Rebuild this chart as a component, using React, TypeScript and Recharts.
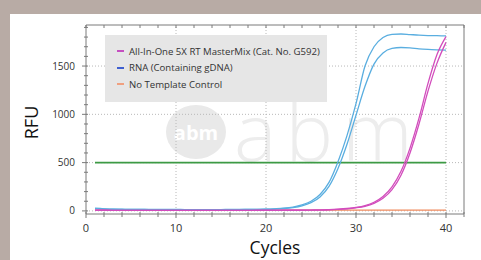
import React from 'react';
import { LineChart, Line, XAxis, YAxis, ReferenceLine, Legend } from 'recharts';

// qPCR amplification curves
const cycles = [
  1, 2, 3, 4, 5, 6, 7, 8, 9, 10, 11, 12, 13, 14, 15, 16, 17, 18, 19, 20,
  21, 22, 23, 24, 25, 26, 27, 28, 29, 30, 31, 32, 33, 34, 35, 36, 37, 38, 39, 40,
];
const masterMixA = [
  9, 7, 6, 6, 6, 6, 6, 6, 6, 6, 6, 6, 6, 6, 6, 6, 6, 6, 7, 7,
  7, 8, 8, 8, 9, 10, 13, 18, 25, 36, 55, 90, 150, 250, 410, 650, 960, 1320, 1620, 1805,
];
const masterMixB = [
  8, 7, 6, 6, 6, 6, 6, 5, 5, 5, 5, 5, 5, 5, 5, 5, 6, 6, 6, 6,
  6, 7, 7, 7, 8, 9, 12, 16, 22, 32, 48, 78, 130, 220, 370, 600, 900, 1240, 1530, 1745,
];
const rnaA = [
  28, 22, 18, 17, 16, 16, 15, 15, 15, 15, 14, 14, 14, 14, 14, 14, 14, 15, 16, 18,
  22, 28, 40, 62, 100, 170, 295, 510, 780, 1110, 1500, 1700, 1795, 1828, 1832, 1826, 1820, 1816, 1814, 1812,
];
const rnaB = [
  24, 20, 17, 16, 15, 15, 14, 14, 14, 14, 14, 14, 14, 14, 14, 15, 15, 15, 16, 17,
  20, 25, 35, 53, 85, 145, 255, 440, 690, 990, 1290, 1520, 1635, 1682, 1692, 1688, 1678, 1672, 1668, 1665,
];
const noTemplate = [
  8, 8, 8, 8, 8, 8, 8, 8, 8, 8, 8, 8, 8, 8, 8, 8, 8, 8, 8, 8,
  8, 8, 8, 8, 8, 8, 8, 8, 9, 9, 9, 9, 9, 9, 9, 9, 9, 9, 9, 9,
];

const threshold = 500;
const thresholdStart = 1;
const thresholdEnd = 40;

const xTicks = [0, 2, 4, 6, 8, 10, 12, 14, 16, 18, 20, 22, 24, 26, 28, 30, 32, 34, 36, 38, 40, 42];
const yTicks = [0, 100, 200, 300, 400, 500, 600, 700, 800, 900, 1000, 1100, 1200, 1300, 1400, 1500, 1600, 1700, 1800, 1900];
const xGrid = [10, 20, 30, 40];
const yGrid = [0, 500, 1000, 1500];

const legendLabels = ['All-In-One 5X RT MasterMix (Cat. No. G592)', 'RNA (Containing gDNA)', 'No Template Control'];
const legendColors = ['#c54fc0', '#3f5fd0', '#f0a080'];

const data = cycles.map((c, i) => ({
  cycle: c,
  mmA: masterMixA[i],
  mmB: masterMixB[i],
  rnaA: rnaA[i],
  rnaB: rnaB[i],
  ntc: noTemplate[i],
}));

const AXIS = '#7a7a7a';
const GRID = '#b8b8b8';
const FONT = '"Open Sans", "DejaVu Sans", sans-serif';

const BottomTick = (props: any) => {
  const { x, y, payload } = props;
  const major = payload.value % 10 === 0;
  return (
    <g>
      <line x1={x} x2={x} y1={y - 2} y2={y + (major ? 4 : 3)} stroke={AXIS} />
      {major && (
        <text x={x} y={y + 18} textAnchor="middle" fontSize={11} fill="#333" fontFamily={FONT}>
          {payload.value}
        </text>
      )}
    </g>
  );
};

const TopTick = (props: any) => {
  const { x, y } = props;
  return <line x1={x} x2={x} y1={y} y2={y + 3} stroke={AXIS} />;
};

const LeftTick = (props: any) => {
  const { x, y, payload } = props;
  const major = payload.value % 500 === 0;
  return (
    <g>
      <line x1={x - (major ? 4 : 2)} x2={x + 2} y1={y} y2={y} stroke={AXIS} />
      {major && (
        <text x={x - 11} y={y + 3.5} textAnchor="end" fontSize={10} fill="#333" fontFamily={FONT}>
          {payload.value}
        </text>
      )}
    </g>
  );
};

const RightTick = (props: any) => {
  const { x, y } = props;
  return <line x1={x - 3} x2={x} y1={y} y2={y} stroke={AXIS} />;
};

const renderLegend = () => (
  <div
    style={{
      background: '#e6e6e6',
      width: 222,
      height: 67,
      boxSizing: 'border-box',
      padding: '8px 0 0 12px',
      fontFamily: FONT,
      fontSize: 9.6,
      color: '#333',
      whiteSpace: 'nowrap',
    }}
  >
    {legendLabels.map((label, i) => (
      <div key={label} style={{ display: 'flex', alignItems: 'center', height: 16.6 }}>
        <span style={{ width: 7, height: 2, background: legendColors[i], marginRight: 5 }} />
        <span>{label}</span>
      </div>
    ))}
  </div>
);

export default function App() {
  return (
    <div style={{ position: 'fixed', left: 0, top: 0, width: 481, height: 260, background: '#b8aba5', overflow: 'hidden' }}>
      <div style={{ position: 'absolute', left: 10, top: 14, right: 0, bottom: 0, background: '#ffffff' }} />
      {/* abm watermark */}
      <div
        style={{
          position: 'absolute', left: 166, top: 105, width: 60, height: 54, borderRadius: '50%',
          background: '#e9e9e9', color: '#fff', fontFamily: FONT, fontWeight: 700, fontSize: 20,
          display: 'flex', alignItems: 'center', justifyContent: 'center',
        }}
      >
        abm
      </div>
      <div
        style={{
          position: 'absolute', left: 234, top: 100, fontFamily: FONT, fontWeight: 300,
          fontSize: 80, letterSpacing: 9, color: '#ededed', lineHeight: 0.75,
        }}
      >
        abm
      </div>
      <div style={{ position: 'absolute', left: 0, top: 0 }}>
        <LineChart width={481} height={260} data={data} margin={{ top: 20, right: 12, bottom: 6, left: 10 }}>
          <XAxis
            xAxisId="b" dataKey="cycle" type="number" domain={[0, 42]} ticks={xTicks}
            height={40} tickSize={0} tickMargin={0} tick={<BottomTick />} stroke={AXIS}
            interval={0} allowDataOverflow
            label={{ value: 'Cycles', position: 'insideBottom', offset: 0, fontSize: 17.5, fill: '#111', fontFamily: FONT }}
          />
          <XAxis
            xAxisId="t" orientation="top" dataKey="cycle" type="number" domain={[0, 42]} ticks={xTicks}
            height={5} tickSize={0} tickMargin={0} tick={<TopTick />} stroke={AXIS} interval={0}
          />
          <YAxis
            yAxisId="l" type="number" domain={[-32, 1925]} ticks={yTicks} width={76}
            tickSize={0} tickMargin={0} tick={<LeftTick />} stroke={AXIS} interval={0} allowDataOverflow
            label={(p: any) => {
              const vb = p.viewBox;
              const cx = vb.x + 21;
              const cy = vb.y + vb.height / 2 + 3;
              return (
                <text
                  x={cx} y={cy} transform={`rotate(-90 ${cx} ${cy})`} textAnchor="middle"
                  dominantBaseline="central" fontSize={18} fill="#111" fontFamily={FONT}
                >
                  RFU
                </text>
              );
            }}
          />
          <YAxis
            yAxisId="r" orientation="right" type="number" domain={[-32, 1925]} ticks={yTicks} width={5}
            tickSize={0} tickMargin={0} tick={<RightTick />} stroke={AXIS} interval={0}
          />
          {xGrid.map((v) => (
            <ReferenceLine key={'x' + v} xAxisId="b" yAxisId="l" x={v} stroke={GRID} strokeDasharray="1 2" />
          ))}
          {yGrid.map((v) => (
            <ReferenceLine key={'y' + v} xAxisId="b" yAxisId="l" y={v} stroke={GRID} strokeDasharray="1 2" />
          ))}
          <ReferenceLine
            xAxisId="b" yAxisId="l" stroke="#3d9a45" strokeWidth={1.6}
            segment={[{ x: thresholdStart, y: threshold }, { x: thresholdEnd, y: threshold }]}
          />
          <Line xAxisId="b" yAxisId="l" dataKey="ntc" stroke="#f08a5d" strokeWidth={1.2} dot={false} isAnimationActive={false} />
          <Line xAxisId="b" yAxisId="l" dataKey="rnaA" type="monotone" stroke="#5aaee0" strokeWidth={1.3} dot={false} isAnimationActive={false} />
          <Line xAxisId="b" yAxisId="l" dataKey="rnaB" type="monotone" stroke="#5aaee0" strokeWidth={1.3} dot={false} isAnimationActive={false} />
          <Line xAxisId="b" yAxisId="l" dataKey="mmA" type="monotone" stroke="#d24cbc" strokeWidth={1.3} dot={false} isAnimationActive={false} />
          <Line xAxisId="b" yAxisId="l" dataKey="mmB" type="monotone" stroke="#d24cbc" strokeWidth={1.3} dot={false} isAnimationActive={false} />
          <Legend
            content={renderLegend}
            layout="vertical" align="center" verticalAlign="middle"
            wrapperStyle={{ left: 105, top: 35, width: 222, height: 67 }}
          />
        </LineChart>
      </div>
    </div>
  );
}
